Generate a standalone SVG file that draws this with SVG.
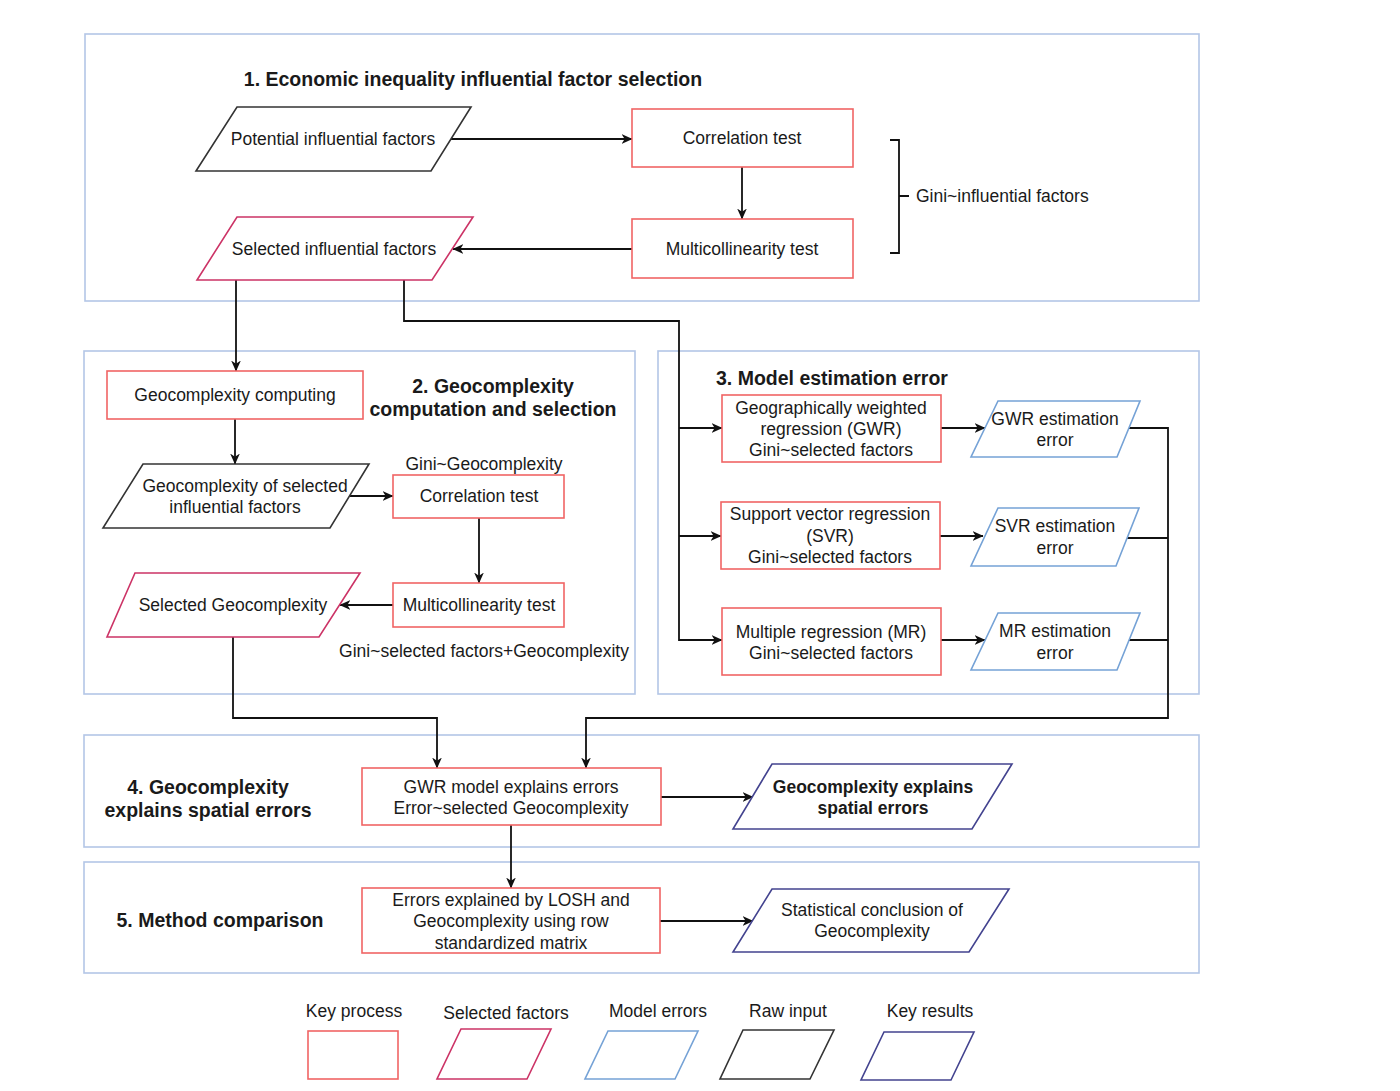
<svg xmlns="http://www.w3.org/2000/svg" width="1400" height="1091" viewBox="0 0 1400 1091">
<defs>
<marker id="arr" viewBox="0 0 10 10" refX="9.5" refY="5" markerWidth="11" markerHeight="11" markerUnits="userSpaceOnUse" orient="auto">
<path d="M0,0.6 L10,5 L0,9.4 L2.8,5 z" fill="#111"/>
</marker>
</defs>
<style>
text{font-family:"Liberation Sans",Arial,sans-serif;font-size:17.5px;fill:#1a1a1a;text-anchor:middle}
.t{font-weight:bold;font-size:19.5px}
.b{font-weight:bold}
.l{text-anchor:start}
.sec{fill:none;stroke:#b3c6e6;stroke-width:1.6}
.proc{fill:#fff;stroke:#f06464;stroke-width:1.6}
.sel{fill:#fff;stroke:#cc3366;stroke-width:1.6}
.err{fill:#fff;stroke:#75a2d6;stroke-width:1.6}
.raw{fill:#fff;stroke:#333;stroke-width:1.6}
.res{fill:#fff;stroke:#43438f;stroke-width:1.6}
.c{fill:none;stroke:#111;stroke-width:1.8}
</style>
<rect width="1400" height="1091" fill="#fff"/>

<g id="sections">
<rect class="sec" x="85" y="34" width="1114" height="267"/>
<rect class="sec" x="84" y="351" width="551" height="343"/>
<rect class="sec" x="658" y="351" width="541" height="343"/>
<rect class="sec" x="84" y="735" width="1115" height="112"/>
<rect class="sec" x="84" y="862" width="1115" height="111"/>
<text class="t" x="473" y="86">1. Economic inequality influential factor selection</text>
<text class="t" x="493" y="393">2. Geocomplexity</text>
<text class="t" x="493" y="416">computation and selection</text>
<text class="t l" x="716" y="385">3. Model estimation error</text>
<text class="t" x="208" y="794">4. Geocomplexity</text>
<text class="t" x="208" y="817">explains spatial errors</text>
<text class="t" x="220" y="927">5. Method comparison</text>
</g>

<g id="connectors">
<path class="c" d="M451,139 H632" marker-end="url(#arr)"/>
<path class="c" d="M742,167 V219" marker-end="url(#arr)"/>
<path class="c" d="M632,249 H453" marker-end="url(#arr)"/>
<path class="c" d="M236,280 V371" marker-end="url(#arr)"/>
<path class="c" d="M404,280 V321 H679 V640 H722" marker-end="url(#arr)"/>
<path class="c" d="M679,428 H722" marker-end="url(#arr)"/>
<path class="c" d="M679,536 H721" marker-end="url(#arr)"/>
<path class="c" d="M941,428 H985" marker-end="url(#arr)"/>
<path class="c" d="M940,536 H983" marker-end="url(#arr)"/>
<path class="c" d="M941,640 H985" marker-end="url(#arr)"/>
<path class="c" d="M1129,428 H1168 V718 H586 V768" marker-end="url(#arr)"/>
<path class="c" d="M1127,538 H1168"/>
<path class="c" d="M1129,640 H1168"/>
<path class="c" d="M235,419 V464" marker-end="url(#arr)"/>
<path class="c" d="M350,496 H393" marker-end="url(#arr)"/>
<path class="c" d="M479,518 V583" marker-end="url(#arr)"/>
<path class="c" d="M393,605 H340" marker-end="url(#arr)"/>
<path class="c" d="M233,637 V718 H437 V768" marker-end="url(#arr)"/>
<path class="c" d="M661,797 H753" marker-end="url(#arr)"/>
<path class="c" d="M511,825 V888" marker-end="url(#arr)"/>
<path class="c" d="M660,921 H753" marker-end="url(#arr)"/>
<path class="c" d="M890,140 H899 V253 H890 M899,196 H909"/>
</g>

<g id="potential-factors">
<polygon class="raw" points="237,107 471,107 431,171 196,171"/>
<text x="333" y="145">Potential influential factors</text>
</g>
<g id="correlation-test-1">
<rect class="proc" x="632" y="109" width="221" height="58"/>
<text x="742" y="144">Correlation test</text>
</g>
<g id="multicollinearity-test-1">
<rect class="proc" x="632" y="219" width="221" height="59"/>
<text x="742" y="255">Multicollinearity test</text>
</g>
<g id="gini-influential-label">
<text class="l" x="916" y="202">Gini~influential factors</text>
</g>
<g id="selected-factors">
<polygon class="sel" points="237,217 473,217 432,280 197,280"/>
<text x="334" y="255">Selected influential factors</text>
</g>

<g id="geocomplexity-computing">
<rect class="proc" x="107" y="371" width="256" height="48"/>
<text x="235" y="401">Geocomplexity computing</text>
</g>
<g id="geocomplexity-selected">
<polygon class="raw" points="143,464 369,464 330,528 103,528"/>
<text x="245" y="492">Geocomplexity of selected</text>
<text x="235" y="513">influential factors</text>
</g>
<g id="correlation-test-2">
<text x="484" y="470">Gini~Geocomplexity</text>
<rect class="proc" x="393" y="475" width="171" height="43"/>
<text x="479" y="502">Correlation test</text>
</g>
<g id="multicollinearity-test-2">
<rect class="proc" x="393" y="583" width="171" height="44"/>
<text x="479" y="611">Multicollinearity test</text>
<text x="484" y="657">Gini~selected factors+Geocomplexity</text>
</g>
<g id="selected-geocomplexity">
<polygon class="sel" points="135,573 360,573 319,637 107,637"/>
<text x="233" y="611">Selected Geocomplexity</text>
</g>

<g id="gwr">
<rect class="proc" x="722" y="395" width="219" height="67"/>
<text x="831" y="414">Geographically weighted</text>
<text x="831" y="435">regression (GWR)</text>
<text x="831" y="456">Gini~selected factors</text>
</g>
<g id="gwr-error">
<polygon class="err" points="998,401 1140,401 1117,457 971,457"/>
<text x="1055" y="425">GWR estimation</text>
<text x="1055" y="446">error</text>
</g>
<g id="svr">
<rect class="proc" x="721" y="502" width="219" height="67"/>
<text x="830" y="520">Support vector regression</text>
<text x="830" y="542">(SVR)</text>
<text x="830" y="563">Gini~selected factors</text>
</g>
<g id="svr-error">
<polygon class="err" points="998,508 1139,508 1116,566 971,566"/>
<text x="1055" y="532">SVR estimation</text>
<text x="1055" y="554">error</text>
</g>
<g id="mr">
<rect class="proc" x="722" y="608" width="219" height="67"/>
<text x="831" y="638">Multiple regression (MR)</text>
<text x="831" y="659">Gini~selected factors</text>
</g>
<g id="mr-error">
<polygon class="err" points="998,613 1140,613 1117,670 971,670"/>
<text x="1055" y="637">MR estimation</text>
<text x="1055" y="659">error</text>
</g>

<g id="gwr-explains">
<rect class="proc" x="362" y="768" width="299" height="57"/>
<text x="511" y="793">GWR model explains errors</text>
<text x="511" y="814">Error~selected Geocomplexity</text>
</g>
<g id="geocomplexity-explains">
<polygon class="res" points="772,764 1012,764 972,829 733,829"/>
<text class="b" x="873" y="793">Geocomplexity explains</text>
<text class="b" x="873" y="814">spatial errors</text>
</g>
<g id="losh">
<rect class="proc" x="362" y="888" width="298" height="65"/>
<text x="511" y="906">Errors explained by LOSH and</text>
<text x="511" y="927">Geocomplexity using row</text>
<text x="511" y="949">standardized matrix</text>
</g>
<g id="statistical-conclusion">
<polygon class="res" points="772,889 1009,889 969,952 733,952"/>
<text x="872" y="916">Statistical conclusion of</text>
<text x="872" y="937">Geocomplexity</text>
</g>

<g id="legend">
<text x="354" y="1017">Key process</text>
<rect class="proc" x="308" y="1031" width="90" height="48"/>
<text x="506" y="1019">Selected factors</text>
<polygon class="sel" points="461,1029 551,1029 527,1079 437,1079"/>
<text x="658" y="1017">Model errors</text>
<polygon class="err" points="608,1031 698,1031 675,1079 585,1079"/>
<text x="788" y="1017">Raw input</text>
<polygon class="raw" points="743,1030 834,1030 810,1079 720,1079"/>
<text x="930" y="1017">Key results</text>
<polygon class="res" points="884,1032 974,1032 951,1080 861,1080"/>
</g>
</svg>
